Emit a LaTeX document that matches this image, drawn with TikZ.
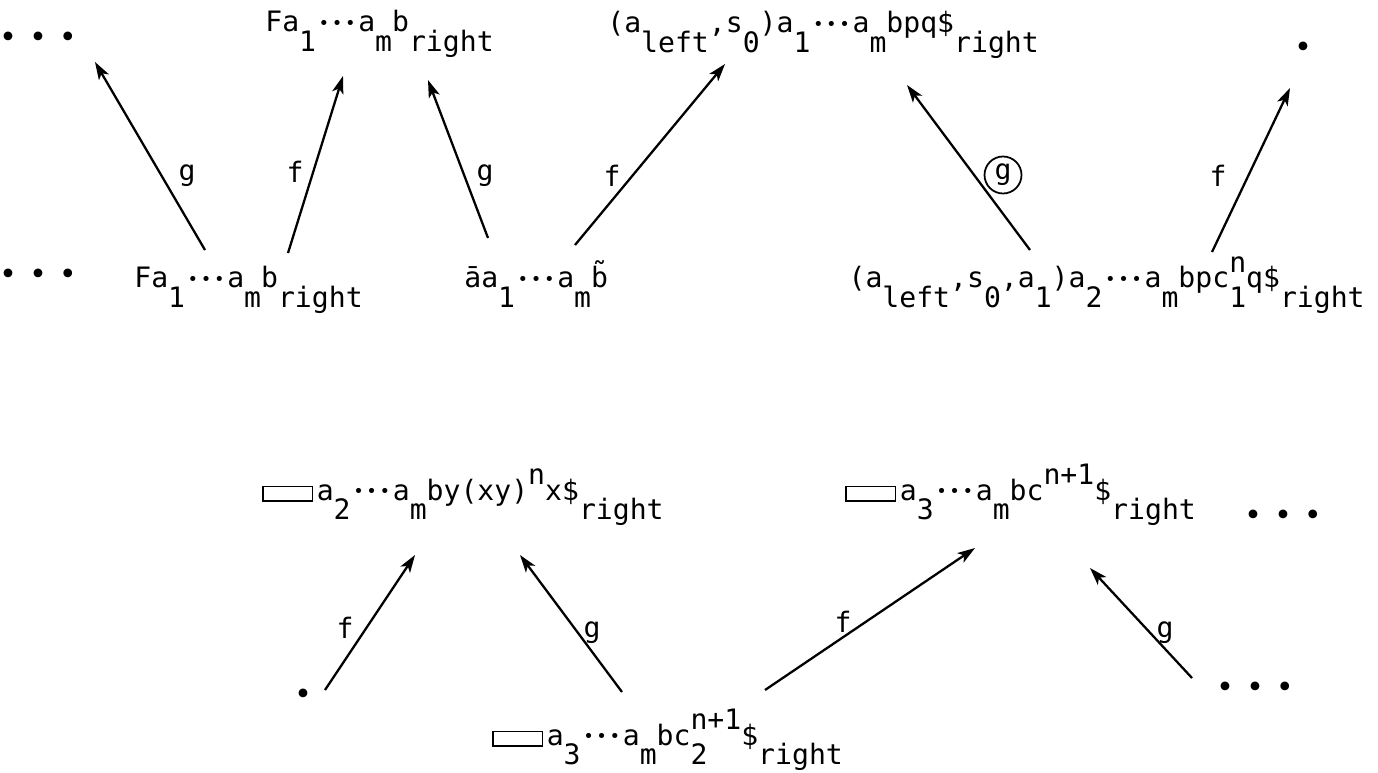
\documentclass[tikz,border=0pt]{standalone}
\usepackage{fontspec}
\setmonofont{DejaVu Sans Mono}
\usetikzlibrary{arrows.meta,calc,positioning}

% typewriter half-line shifts
\newcommand{\dn}[1]{\raisebox{-11pt}{#1}}
\newcommand{\up}[1]{\raisebox{9pt}{#1}}
\newcommand{\updn}[2]{\rlap{\dn{#1}}\up{#2}}
\newcommand{\dt}{\raisebox{1.5pt}{\fontsize{10}{10}\selectfont •}}
\newcommand{\ddd}{\hbox to 1.5em{\hss\dt\hss\dt\hss\dt\hss}}
\newcommand{\blank}{{\setlength{\fboxsep}{0pt}\setlength{\fboxrule}{0.9pt}\fbox{\rule{0pt}{0.45em}\rule{1.7em}{0pt}}}\kern2pt}

\tikzset{
  word/.style={font=\ttfamily\fontsize{16}{19}\selectfont,inner sep=0pt},
  lab/.style={font=\ttfamily\fontsize{16}{19}\selectfont,inner sep=1pt},
  dots/.style={font=\ttfamily\fontsize{17}{17}\selectfont,inner sep=0pt},
  arr/.style={-{Stealth[length=10pt,width=6.5pt,inset=2.5pt]},line width=1.3pt},
}
\newcommand{\three}{•\kern6.8pt•\kern6.8pt•}

\begin{document}
\begin{tikzpicture}[x=0.02cm,y=-0.02cm]
  \useasboundingbox (0,0) rectangle (1378,773);
  % top row
  \node[dots] (dotsTL) at (38,40) {\three};
  \node[word,anchor=base west] (topF) at (265,32) {Fa\dn{1}\ddd a\dn{m}b\dn{right}};
  \node[word,anchor=base west] (topL) at (607,33) {(a\dn{left},s\dn{0})a\dn{1}\ddd a\dn{m}bpq\$\dn{right}};
  \node[dots] (dotTR) at (1303,50) {•};
  % middle row
  \node[dots] (dotsML) at (38,277) {\three};
  \node[word,anchor=base west] (midF) at (134,288) {Fa\dn{1}\ddd a\dn{m}b\dn{right}};
  \node[word,anchor=base west] (midA) at (464,288) {\=aa\dn{1}\ddd a\dn{m}\~{b}};
  \node[word,anchor=base east] (midL) at (1365,288) {(a\dn{left},s\dn{0},a\dn{1})a\dn{2}\ddd a\dn{m}bpc\updn{1}{n}q\$\dn{right}};
  % lower row
  \node[word,anchor=base west] (lowY) at (262,500) {\blank a\dn{2}\ddd a\dn{m}by(xy)\up{n}x\$\dn{right}};
  \node[word,anchor=base west] (lowC) at (845,500) {\blank a\dn{3}\ddd a\dn{m}bc\up{n+1}\$\dn{right}};
  \node[dots] (dotsLR) at (1283,518) {\three};
  % bottom row
  \node[dots] (dotBL) at (303,697) {•};
  \node[word,anchor=base west] (botC) at (492,745) {\blank a\dn{3}\ddd a\dn{m}bc\updn{2}{n+1}\$\dn{right}};
  \node[dots] (dotsBR) at (1255,690) {\three};

  % arrow ends
  \coordinate (t1) at (205,250); \coordinate (h1) at (95,62);
  \coordinate (t2) at (288,253); \coordinate (h2) at (343,76);
  \coordinate (t3) at (488,238); \coordinate (h3) at (428,80);
  \coordinate (t4) at (575,245); \coordinate (h4) at (725,64);
  \coordinate (t5) at (1030,250); \coordinate (h5) at (907,85);
  \coordinate (t6) at (1212,252); \coordinate (h6) at (1290,88);
  \coordinate (t7) at (325,690); \coordinate (h7) at (415,555);
  \coordinate (t8) at (622,692); \coordinate (h8) at (520,555);
  \coordinate (t9) at (765,690); \coordinate (h9) at (975,548);
  \coordinate (t10) at (1192,678); \coordinate (h10) at (1090,568);

  \draw[arr] (t1) -- (h1);
  \draw[arr] (t2) -- (h2);
  \draw[arr] (t3) -- (h3);
  \draw[arr] (t4) -- (h4);
  \draw[arr] (t5) -- (h5);
  \draw[arr] (t6) -- (h6);
  \draw[arr] (t7) -- (h7);
  \draw[arr] (t8) -- (h8);
  \draw[arr] (t9) -- (h9);
  \draw[arr] (t10) -- (h10);

  % labels
  \node[lab] (g1) at (187,176) {g};
  \node[lab] (f2) at (295,172) {f};
  \node[lab] (g3) at (485,176) {g};
  \node[lab] (f4) at (612,176) {f};
  \node[lab,circle,draw,line width=1pt,inner sep=0pt,minimum size=0.74cm] (g5) at (1003,175) {g};
  \node[lab] (f6) at (1218,176) {f};
  \node[lab] (f7) at (345,628) {f};
  \node[lab] (g8) at (592,633) {g};
  \node[lab] (f9) at (843,622) {f};
  \node[lab] (g10) at (1165,633) {g};
\end{tikzpicture}
\end{document}
